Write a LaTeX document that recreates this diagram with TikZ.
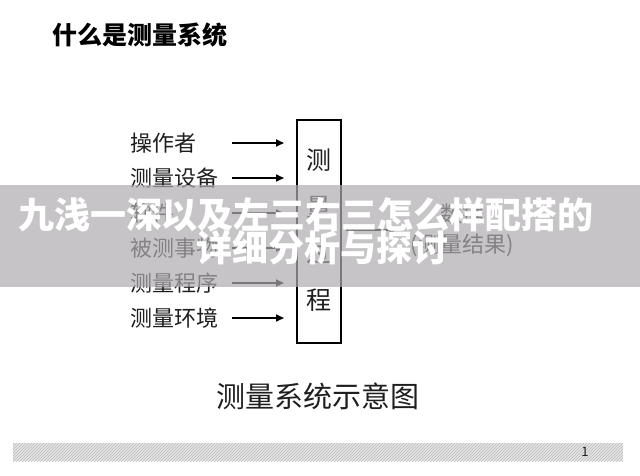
\documentclass[tikz,border=0pt]{standalone}
\usepackage{fontspec}
\setmainfont{Noto Sans CJK SC}
\newfontfamily\heavyfont[FakeBold=1.2]{Noto Sans CJK SC Bold}
\usetikzlibrary{arrows.meta,patterns}
\definecolor{bandc}{RGB}{176,172,176}
\definecolor{txt}{RGB}{30,30,30}
\definecolor{barc}{RGB}{228,228,228}
\definecolor{barl}{RGB}{188,188,188}
\tikzset{
  fs/.style={font=\fontsize{#1}{#1}\selectfont},
  lab/.style={anchor=west, inner sep=0pt, text=txt, fs=22},
  boxch/.style={inner sep=0pt, text=txt, fs=25},
  arr/.style={line width=1.8pt, -{Triangle[length=8pt,width=7pt]}},
  ovl/.style={inner sep=0pt, text=white, font=\fontsize{36}{36}\selectfont\bfseries},
}
\begin{document}
\begin{tikzpicture}[x=1pt,y=-1pt]
\useasboundingbox (0,0) rectangle (640,475);
\fill[white] (0,0) rectangle (640,475);
% title
\node[anchor=west, inner sep=0pt, font=\fontsize{25}{25}\selectfont\bfseries] (title) at (52,35) {什么是测量系统};
% input labels
\node[lab] (l1) at (130,143) {操作者};
\node[lab] (l2) at (130,178) {测量设备};
\node[lab] (l3) at (130,213) {软件};
\node[lab] (l4) at (130,248) {被测事物};
\node[lab] (l5) at (130,283) {测量程序};
\node[lab] (l6) at (130,318) {测量环境};
\foreach \i/\y in {1/143,2/178,3/213,4/248,5/283,6/318}{
  \coordinate (s\i) at (232,\y);
  \coordinate (e\i) at (284,\y);
  \draw[arr] (s\i) -- (e\i);
}
% process box
\node[draw, line width=1.8pt, minimum width=44pt, minimum height=223pt, inner sep=0pt] (box) at (319,231.5) {};
\node[boxch] (b1) at (319,160) {测};
\node[boxch] (b2) at (319,207) {量};
\node[boxch] (b3) at (319,253) {过};
\node[boxch] (b4) at (319,300) {程};
% output
\coordinate (os) at (346,230);
\coordinate (oe) at (397,230);
\draw[arr] (os) -- (oe);
\node[inner sep=0pt, text=txt, fs=22] (d1) at (462,214) {数据};
\node[inner sep=0pt, text=txt, fs=22] (d2) at (462,245) {(测量结果)};
% caption
\node[inner sep=0pt, text=txt, fs=29] (cap) at (318,396) {测量系统示意图};
% bottom bar
\fill[barc] (13,443) rectangle (623,461);
\fill[pattern=north east lines, pattern color=barl] (13,443) rectangle (623,461);
\node[inner sep=0pt, text=txt, fs=13] (pg) at (585,452) {1};
% overlay band
\fill[bandc, opacity=0.7] (0,185) rectangle (640,287);
\node[ovl] (o1) at (306,215) {九浅一深以及左三右三怎么样配搭的};
\node[ovl] (o2) at (322,248) {详细分析与探讨};
\end{tikzpicture}
\end{document}
